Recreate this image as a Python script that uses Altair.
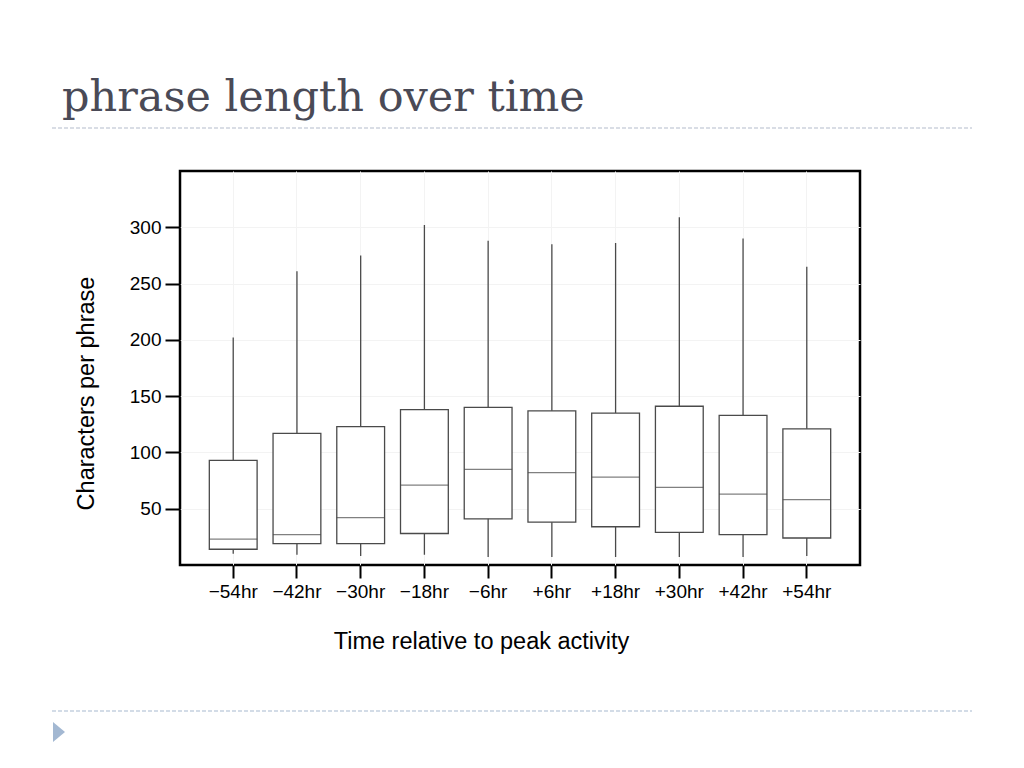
import altair as alt
import pandas as pd

# ---- data ----
times = ["−54hr", "−42hr", "−30hr", "−18hr", "−6hr", "+6hr", "+18hr", "+30hr", "+42hr", "+54hr"]
whisker_low = [10, 9, 8, 9, 7, 7, 7, 7, 7, 8]
q1 = [14, 19, 19, 28, 41, 38, 34, 29, 27, 24]
median = [23, 27, 42, 71, 85, 82, 78, 69, 63, 58]
q3 = [93, 117, 123, 138, 140, 137, 135, 141, 133, 121]
whisker_high = [202, 261, 275, 302, 288, 285, 286, 309, 290, 265]
y_ticks = [50, 100, 150, 200, 250, 300]

df = pd.DataFrame({
    "time": times,
    "lo": whisker_low,
    "q1": q1,
    "med": median,
    "q3": q3,
    "hi": whisker_high,
})

FONT = "Liberation Sans"
BOX = "#4a4a4a"

xscale = alt.Scale(paddingInner=0.25, paddingOuter=0.46)
yscale = alt.Scale(domain=[0, 350], nice=False, zero=False)

x_enc = alt.X(
    "time:N", sort=times, scale=xscale,
    axis=alt.Axis(
        title="Time relative to peak activity",
        labelAngle=0, labelFontSize=19, labelFont=FONT, labelColor="black",
        labelPadding=4, tickColor="black", tickWidth=2, tickSize=13,
        domain=False, grid=True, gridColor="#f3f3f3", gridWidth=1,
        titleFont=FONT, titleFontSize=23.5, titleFontWeight="normal",
        titleColor="black", titleX=301, titleY=76, titleBaseline="middle",
    ),
)
y_axis = alt.Axis(
    title="Characters per phrase", values=y_ticks,
    labelFontSize=19, labelFont=FONT, labelColor="black", labelPadding=4,
    tickColor="black", tickWidth=2, tickSize=15, domain=False,
    grid=True, gridColor="#f3f3f3", gridWidth=1,
    titleFont=FONT, titleFontSize=23.5, titleFontWeight="normal",
    titleColor="black", titleX=-94, titleY=222, titleBaseline="middle",
)

base = alt.Chart(df)

whiskers = base.mark_rule(color=BOX, strokeWidth=1.3).encode(
    x=x_enc,
    y=alt.Y("lo:Q", scale=yscale, axis=y_axis),
    y2="hi:Q",
)
boxes = base.mark_bar(fill="white", stroke=BOX, strokeWidth=1.3).encode(
    x=alt.X("time:N", sort=times),
    y=alt.Y("q1:Q"),
    y2="q3:Q",
)
medians = base.mark_tick(color=BOX, thickness=1.3, size=48).encode(
    x=alt.X("time:N", sort=times),
    y=alt.Y("med:Q"),
)

one = alt.Data(values=[{"t": "phrase length over time"}])

title = alt.Chart(one).mark_text(
    font="DejaVu Serif", fontSize=43, color="#4a4a56",
    align="left", baseline="alphabetic",
).encode(x=alt.value(-118), y=alt.value(-60), text="t:N")

line_top = alt.Chart(one).mark_rule(
    color="#b4bccb", strokeWidth=1.2, strokeDash=[4, 2]
).encode(x=alt.value(-128), x2=alt.value(792), y=alt.value(-43))

line_bottom = alt.Chart(one).mark_rule(
    color="#a7b9cf", strokeWidth=1.2, strokeDash=[4, 2]
).encode(x=alt.value(-128), x2=alt.value(792), y=alt.value(540))

arrow = alt.Chart(one).mark_point(
    shape="M-0.6,-1L0.6,0L-0.6,1Z", filled=True, color="#a3b8d2",
    opacity=1, size=400,
).encode(x=alt.value(-121), y=alt.value(561))

chart = alt.layer(
    whiskers, boxes, medians, title, line_top, line_bottom, arrow
).properties(
    width=680, height=394,
    background="white",
    autosize=alt.AutoSizeParams(type="none"),
    padding={"left": 172, "top": 163, "right": 156, "bottom": 195},
).configure_view(
    stroke="black", strokeWidth=2.5
)

chart.save("out.html", embed_options={"renderer": "svg", "actions": False})
